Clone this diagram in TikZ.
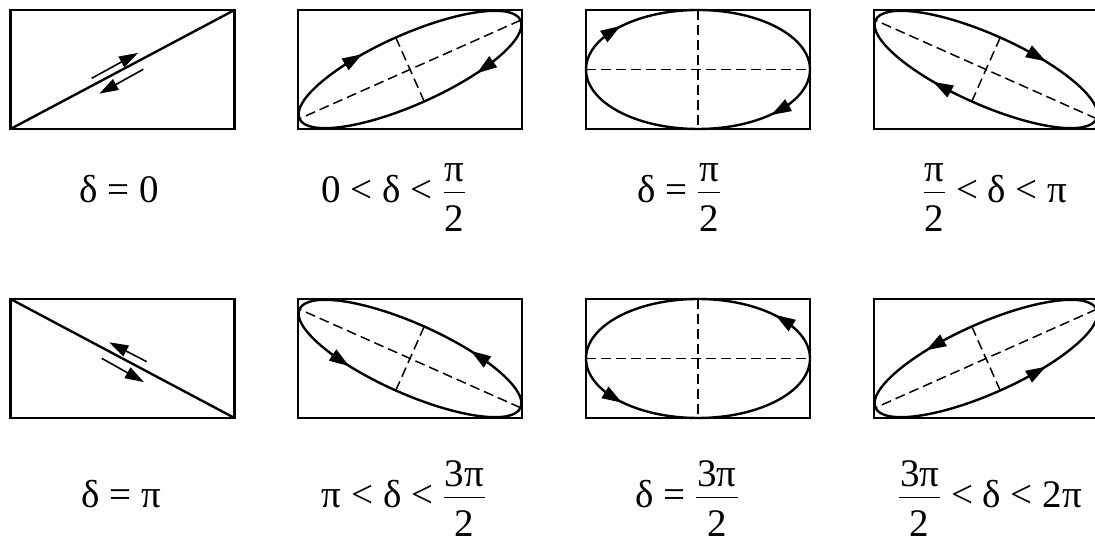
\documentclass[tikz,border=0pt]{standalone}
\usepackage{fontspec}
\setmainfont{Liberation Serif}
\usetikzlibrary{arrows.meta,calc}
\tikzset{
  frame/.style={draw, line width=2.5pt, minimum width=224pt, minimum height=119pt, inner sep=0pt, outer sep=0pt},
  curve/.style={line width=2.4pt},
  axisline/.style={line width=1.5pt, dash pattern=on 10pt off 5pt},
  ellarrow/.style={line width=2.4pt, -{Triangle[length=20pt,width=13pt]}},
  smallarrow/.style={line width=1.6pt, -{Triangle[length=19pt,width=12pt]}},
  lbl/.style={anchor=base, inner sep=0pt, font=\fontsize{39}{47}\selectfont},
}
% stacked fraction built from boxes
\newcommand\myfrac[2]{%
  \setbox0=\hbox{#1}\setbox2=\hbox{#2}%
  \dimen0=\wd0 \ifdim\wd2>\dimen0 \dimen0=\wd2\fi
  \advance\dimen0 by 2pt\relax
  \kern1pt\relax\raisebox{-29pt}{\vbox{\hbox to\dimen0{\hfil\box0\hfil}\kern10pt\hrule height 1.5pt\kern12.8pt\hbox to\dimen0{\hfil\box2\hfil}}}\kern1pt\relax}
% tilted ellipse with dashed axes: node, a, b, rotation
\newcommand\tiltell[4]{%
  \draw[axisline] ($(#1.center)+(#4:#2pt)$) -- ($(#1.center)+(#4+180:#2pt)$);
  \draw[axisline] ($(#1.center)+(#4+90:#3pt)$) -- ($(#1.center)+(#4-90:#3pt)$);
  \draw[curve, rotate around={#4:(#1.center)}] (#1.center) ellipse [x radius=#2pt, y radius=#3pt];
}
% arrowhead on ellipse: node, a, b, rotation, parameter angle, direction (+1 ccw, -1 cw)
\newcommand\ellarr[6]{%
  \pgfmathsetmacro\ex{(#2)*cos(#5)}%
  \pgfmathsetmacro\ey{(#3)*sin(#5)}%
  \pgfmathsetmacro\tx{-1*(#6)*(#2)*sin(#5)}%
  \pgfmathsetmacro\ty{(#6)*(#3)*cos(#5)}%
  \pgfmathsetmacro\tl{veclen(\tx,\ty)}%
  \pgfmathsetmacro\ux{\tx/\tl}%
  \pgfmathsetmacro\uy{\ty/\tl}%
  \pgfmathsetmacro\sx{\ex-10.5*(\ux)}%
  \pgfmathsetmacro\sy{\ey-10.5*(\uy)}%
  \pgfmathsetmacro\fx{\ex+10*(\ux)}%
  \pgfmathsetmacro\fy{\ey+10*(\uy)}%
  \begin{scope}[shift={(#1.center)},rotate=#4]
    \draw[ellarrow] (\sx,\sy) -- (\fx,\fy);
  \end{scope}}
\begin{document}
\begin{tikzpicture}[x=1pt,y=1pt]
\useasboundingbox (0,0) rectangle (1095,545);
% frames
\node[frame] (b1) at (122.5,475.5) {};
\node[frame] (b2) at (410,475.5) {};
\node[frame] (b3) at (698,475.5) {};
\node[frame] (b4) at (986,475.5) {};
\node[frame] (b5) at (122.5,186.5) {};
\node[frame] (b6) at (410,186.5) {};
\node[frame] (b7) at (698,186.5) {};
\node[frame] (b8) at (986,186.5) {};

% delta = 0
\draw[curve] (b1.south west) -- (b1.north east);
\coordinate (a1s) at (91.7,466.7);
\coordinate (a1e) at (138,492.1);
\coordinate (a2s) at (143.3,475.7);
\coordinate (a2e) at (99.3,451.3);
\draw[smallarrow] (a1s) -- (a1e);
\draw[smallarrow] (a2s) -- (a2e);

% delta = pi
\draw[curve] (b5.north west) -- (b5.south east);
\coordinate (a3s) at (146.7,183.3);
\coordinate (a3e) at (109.3,202.7);
\coordinate (a4s) at (101.7,186.7);
\coordinate (a4e) at (144,162.9);
\draw[smallarrow] (a3s) -- (a3e);
\draw[smallarrow] (a4s) -- (a4e);

% 0 < delta < pi/2
\tiltell{b2}{121}{35}{24}
\ellarr{b2}{121}{35}{24}{113}{-1}
\ellarr{b2}{121}{35}{24}{305}{-1}

% delta = pi/2
\draw[axisline] (b3.west) -- (b3.east);
\draw[axisline] (b3.north) -- (b3.south);
\draw[curve] (b3.center) ellipse [x radius=112pt, y radius=59.5pt];
\ellarr{b3}{112}{59.5}{0}{140}{-1}
\ellarr{b3}{112}{59.5}{0}{317}{-1}

% pi/2 < delta < pi
\tiltell{b4}{121}{35}{-24}
\ellarr{b4}{121}{35}{-24}{70}{-1}
\ellarr{b4}{121}{35}{-24}{254}{-1}

% pi < delta < 3pi/2
\tiltell{b6}{121}{35}{-24}
\ellarr{b6}{121}{35}{-24}{239}{1}
\ellarr{b6}{121}{35}{-24}{59}{1}

% delta = 3pi/2
\draw[axisline] (b7.west) -- (b7.east);
\draw[axisline] (b7.north) -- (b7.south);
\draw[curve] (b7.center) ellipse [x radius=112pt, y radius=59.5pt];
\ellarr{b7}{112}{59.5}{0}{40}{1}
\ellarr{b7}{112}{59.5}{0}{221}{1}

% 3pi/2 < delta < 2pi
\tiltell{b8}{121}{35}{24}
\ellarr{b8}{121}{35}{24}{110}{1}
\ellarr{b8}{121}{35}{24}{290}{1}

% labels
\node[lbl] (l1) at (119,342) {δ = 0};
\node[lbl] (l2) at (394,342) {0 < δ < \myfrac{π}{2}};
\node[lbl] (l3) at (679,342) {δ = \myfrac{π}{2}};
\node[lbl] (l4) at (995,342) {\myfrac{π}{2} < δ < π};
\node[lbl] (l5) at (121,37) {δ = π};
\node[lbl] (l6) at (404,37) {π < δ < \myfrac{3π}{2}};
\node[lbl] (l7) at (687,37) {δ = \myfrac{3π}{2}};
\node[lbl] (l8) at (990,37) {\myfrac{3π}{2} < δ < 2π};
\end{tikzpicture}
\end{document}
